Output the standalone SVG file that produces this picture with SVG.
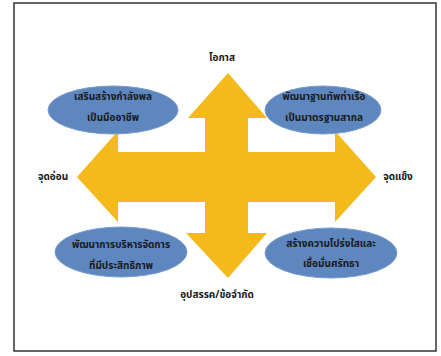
<svg xmlns="http://www.w3.org/2000/svg" width="441" height="356" viewBox="0 0 441 356">
<style>
.t{font-family:"Noto Sans Thai","Noto Sans","DejaVu Sans",sans-serif;font-weight:bold;font-size:10px;fill:#1a1a1a;text-anchor:middle}
.e{fill:#5E87C0;stroke:#7A9CCB;stroke-width:1}
</style>
<rect x="0" y="0" width="441" height="356" fill="#ffffff"/>
<rect x="14" y="3" width="422" height="348" fill="#ffffff" stroke="#333333" stroke-width="1.5"/>
<g id="connectors">
<polygon fill="#F4B91A" points="228,73 267,118 248,118 248,152 335,152 335,131 376,177 335,222 335,202 248,202 248,233 267,233 228,278 186,233 205,233 205,202 118,202 118,222 77,177 118,131 118,152 205,152 205,118 188,118"/>
</g>
<g id="n_opportunity"><text class="t" x="222" y="61">โอกาส</text></g>
<g id="n_weakness"><text class="t" x="53" y="180">จุดอ่อน</text></g>
<g id="n_strength"><text class="t" x="398" y="180">จุดแข็ง</text></g>
<g id="n_threat"><text class="t" x="217" y="298">อุปสรรค/ข้อจำกัด</text></g>
<g id="n_tl"><ellipse class="e" cx="113" cy="110" rx="65" ry="24"/><text class="t" x="113" y="100">เสริมสร้างกำลังพล</text><text class="t" x="113" y="121">เป็นมืออาชีพ</text></g>
<g id="n_tr"><ellipse class="e" cx="323" cy="110" rx="58" ry="24"/><text class="t" x="324" y="100">พัฒนาฐานทัพท่าเรือ</text><text class="t" x="324" y="121">เป็นมาตรฐานสากล</text></g>
<g id="n_bl"><ellipse class="e" cx="121" cy="252" rx="66" ry="25"/><text class="t" x="121" y="248">พัฒนาการบริหารจัดการ</text><text class="t" x="121" y="269">ที่มีประสิทธิภาพ</text></g>
<g id="n_br"><ellipse class="e" cx="331" cy="253" rx="66" ry="25"/><text class="t" x="331" y="247">สร้างความโปร่งใสและ</text><text class="t" x="331" y="267">เชื่อมั่นศรัทธา</text></g>
</svg>
